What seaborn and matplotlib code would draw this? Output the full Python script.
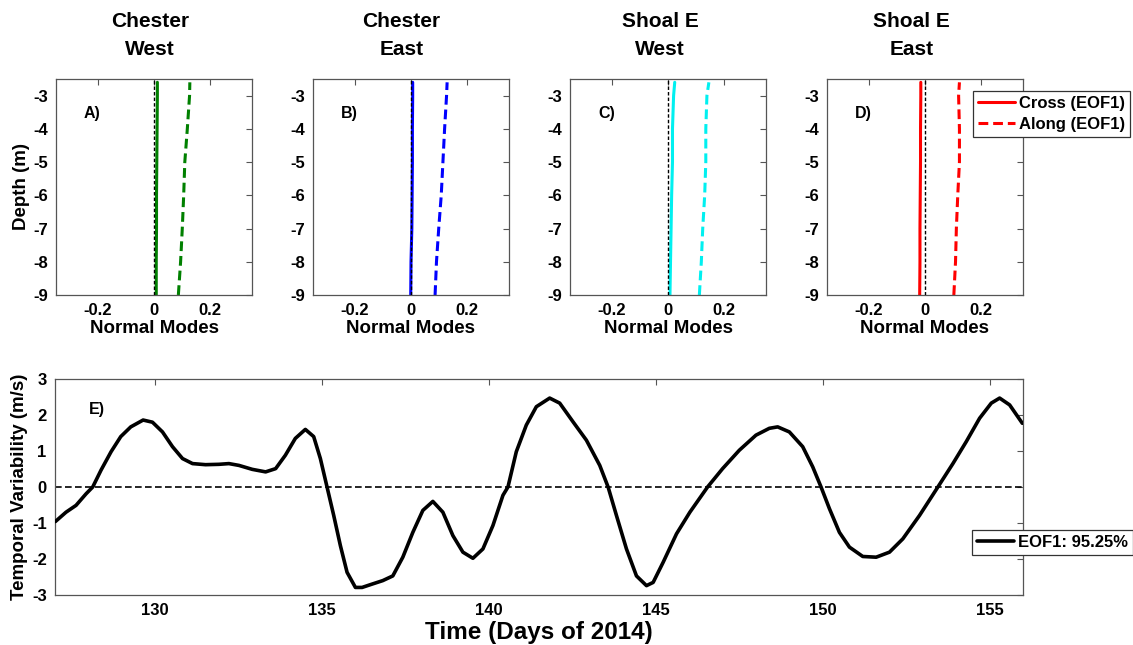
import matplotlib
matplotlib.use("Agg")
import matplotlib.pyplot as plt
import seaborn as sns
import numpy as np

# ---------------- data ----------------
panel_titles = ["Chester\nWest", "Chester\nEast", "Shoal E\nWest", "Shoal E\nEast"]
panel_letters = ["A)", "B)", "C)", "D)"]
panel_colors = ["#008000", "#0000ff", "#00f0f0", "#ff0000"]

depth = [-2.6, -3, -4, -5, -6, -7, -8, -9]

cross_A = [0.012, 0.012, 0.011, 0.010, 0.009, 0.009, 0.008, 0.008]
along_A = [0.128, 0.127, 0.119, 0.110, 0.106, 0.101, 0.095, 0.087]
cross_B = [0.006, 0.006, 0.005, 0.005, 0.004, 0.003, 0.000, -0.001]
along_B = [0.129, 0.127, 0.120, 0.114, 0.108, 0.099, 0.091, 0.086]
cross_C = [0.024, 0.020, 0.016, 0.016, 0.013, 0.011, 0.009, 0.007]
along_C = [0.146, 0.139, 0.135, 0.135, 0.131, 0.124, 0.119, 0.112]
cross_D = [-0.015, -0.015, -0.016, -0.016, -0.017, -0.018, -0.018, -0.019]
along_D = [0.123, 0.120, 0.123, 0.123, 0.117, 0.112, 0.109, 0.103]

cross_all = [cross_A, cross_B, cross_C, cross_D]
along_all = [along_A, along_B, along_C, along_D]

legend_top = ["Cross (EOF1)", "Along (EOF1)"]
legend_bottom = "EOF1: 95.25%"

days = [127.01, 127.33, 127.63, 127.93, 128.13, 128.38, 128.68, 128.97, 129.27, 129.64,
        129.92, 130.22, 130.52, 130.82, 131.12, 131.51, 131.91, 132.21, 132.51, 132.91,
        133.31, 133.61, 133.90, 134.20, 134.50, 134.75, 134.95, 135.15, 135.35, 135.55,
        135.75, 136.00, 136.20, 136.49, 136.82, 137.12, 137.42, 137.72, 138.02, 138.32,
        138.62, 138.92, 139.22, 139.52, 139.82, 140.12, 140.42, 140.57, 140.82, 141.12,
        141.42, 141.82, 142.12, 142.52, 142.92, 143.32, 143.57, 143.82, 144.12, 144.42,
        144.72, 144.92, 145.22, 145.62, 146.02, 146.55, 147.00, 147.50, 148.00, 148.40,
        148.65, 149.00, 149.40, 149.70, 149.95, 150.20, 150.50, 150.80, 151.20, 151.60,
        152.00, 152.40, 152.90, 153.45, 153.90, 154.30, 154.70, 155.05, 155.30, 155.60,
        155.98]
eof1 = [-0.96, -0.70, -0.51, -0.19, 0.00, 0.47, 0.98, 1.40, 1.67, 1.86,
        1.80, 1.53, 1.12, 0.79, 0.65, 0.62, 0.63, 0.65, 0.60, 0.49,
        0.42, 0.51, 0.88, 1.35, 1.60, 1.40, 0.79, 0.00, -0.79, -1.63,
        -2.37, -2.79, -2.79, -2.70, -2.60, -2.47, -1.95, -1.26, -0.65, -0.40,
        -0.70, -1.35, -1.81, -1.98, -1.72, -1.07, -0.23, 0.00, 0.98, 1.72,
        2.23, 2.47, 2.33, 1.81, 1.30, 0.60, 0.00, -0.79, -1.72, -2.47,
        -2.74, -2.65, -2.09, -1.30, -0.70, 0.00, 0.51, 1.02, 1.44, 1.63,
        1.67, 1.53, 1.12, 0.56, 0.00, -0.60, -1.26, -1.67, -1.93, -1.95,
        -1.81, -1.44, -0.79, 0.00, 0.65, 1.26, 1.91, 2.33, 2.47, 2.28,
        1.77]

top_xticks = [-0.2, 0, 0.2]
top_xticklabels = ["-0.2", "0", "0.2"]
top_yticks = [-9, -8, -7, -6, -5, -4, -3]
bot_xticks = [130, 135, 140, 145, 150, 155]
bot_yticks = [-3, -2, -1, 0, 1, 2, 3]

# ---------------- style ----------------
sns.set_style("white")
plt.rcParams['font.family'] = ['Liberation Sans', 'DejaVu Sans']
plt.rcParams['font.weight'] = 'bold'
plt.rcParams['axes.unicode_minus'] = False
plt.rcParams['text.color'] = 'black'
plt.rcParams['axes.labelcolor'] = 'black'
plt.rcParams['xtick.color'] = 'black'
plt.rcParams['ytick.color'] = 'black'
edge = "#555555"

fig = plt.figure(figsize=(11.33, 6.45), dpi=100)
W, H = 1133.0, 645.0

lefts = [56, 313, 570, 827]
title_x = [0.48, 0.45, 0.46, 0.43]


def style_axes(ax):
    for s in ax.spines.values():
        s.set_visible(True)
        s.set_color(edge)
        s.set_linewidth(0.9)
    ax.tick_params(direction='in', top=True, right=True, length=4.5,
                   width=0.8, color=edge, labelcolor='black', labelsize=12, pad=6)
    for lab in ax.get_xticklabels() + ax.get_yticklabels():
        lab.set_fontweight('bold')


top_axes = []
for i in range(4):
    ax = fig.add_axes([lefts[i] / W, 1 - 295 / H, 196 / W, 216 / H])
    top_axes.append(ax)
    col = panel_colors[i]
    sns.lineplot(x=cross_all[i], y=depth, orient='y', ax=ax, color=col,
                 linewidth=2.2, label=legend_top[0], legend=False, zorder=2)
    sns.lineplot(x=along_all[i], y=depth, orient='y', ax=ax, color=col,
                 linewidth=2.2, label=legend_top[1], legend=False, zorder=2)
    ax.lines[1].set_dashes((3.2, 1.6))
    ax.axvline(0, color='black', linewidth=1.0, linestyle=(0, (2.5, 1.5)), zorder=3)
    ax.set_xlim(-0.35, 0.35)
    ax.set_ylim(-9, -2.5)
    ax.set_xticks(top_xticks)
    ax.set_xticklabels(top_xticklabels)
    ax.set_yticks(top_yticks)
    ax.set_xlabel("Normal Modes", fontsize=13.5, fontweight='bold', labelpad=1)
    if i == 0:
        ax.set_ylabel("Depth (m)", fontsize=13.5, fontweight='bold', labelpad=2)
    else:
        ax.set_ylabel("")
    ax.set_title(panel_titles[i], fontsize=15, fontweight='bold', pad=17,
                 x=title_x[i], linespacing=1.6, color='black')
    ax.text(-0.25, -3.55, panel_letters[i], fontsize=11.5, fontweight='bold',
            ha='left', va='center')
    style_axes(ax)

# legend for panel D
axD = top_axes[3]
h = axD.lines[:2]
legD = axD.legend(h, legend_top, loc='upper left', bbox_to_anchor=(973 / W, 1 - 91 / H),
                  bbox_transform=fig.transFigure, frameon=True, fancybox=False,
                  edgecolor='#333333', framealpha=1, borderpad=0.3,
                  handlelength=2.2, handletextpad=0.25, labelspacing=0.35,
                  borderaxespad=0, prop={'weight': 'bold', 'size': 12})
legD.get_frame().set_linewidth(0.9)

# ---------------- bottom panel ----------------
axE = fig.add_axes([55 / W, 1 - 595 / H, 968 / W, 216 / H])
sns.lineplot(x=days, y=eof1, ax=axE, color='black', linewidth=2.6,
             label=legend_bottom, legend=False, zorder=3)
axE.lines[0].set_solid_joinstyle('round')
axE.axhline(0, color='black', linewidth=1.2, linestyle=(0, (4, 2)), zorder=2)
axE.set_xlim(127, 156)
axE.set_ylim(-3, 3)
axE.set_xticks(bot_xticks)
axE.set_yticks(bot_yticks)
axE.set_xlabel("Time (Days of 2014)", fontsize=17.5, fontweight='bold', labelpad=2)
axE.set_ylabel("Temporal Variability (m/s)", fontsize=13.5, fontweight='bold', labelpad=3)
axE.text(128.0, 2.15, "E)", fontsize=11.5, fontweight='bold', ha='left', va='center')
style_axes(axE)
legE = axE.legend([axE.lines[0]], [legend_bottom], loc='upper left',
                  bbox_to_anchor=(972 / W, 1 - 530 / H), bbox_transform=fig.transFigure,
                  frameon=True, fancybox=False, edgecolor='#333333', framealpha=1,
                  borderpad=0.3, handlelength=2.2, handletextpad=0.25, borderaxespad=0,
                  prop={'weight': 'bold', 'size': 12})
legE.get_frame().set_linewidth(0.9)

fig.savefig("out.png", dpi=100)
